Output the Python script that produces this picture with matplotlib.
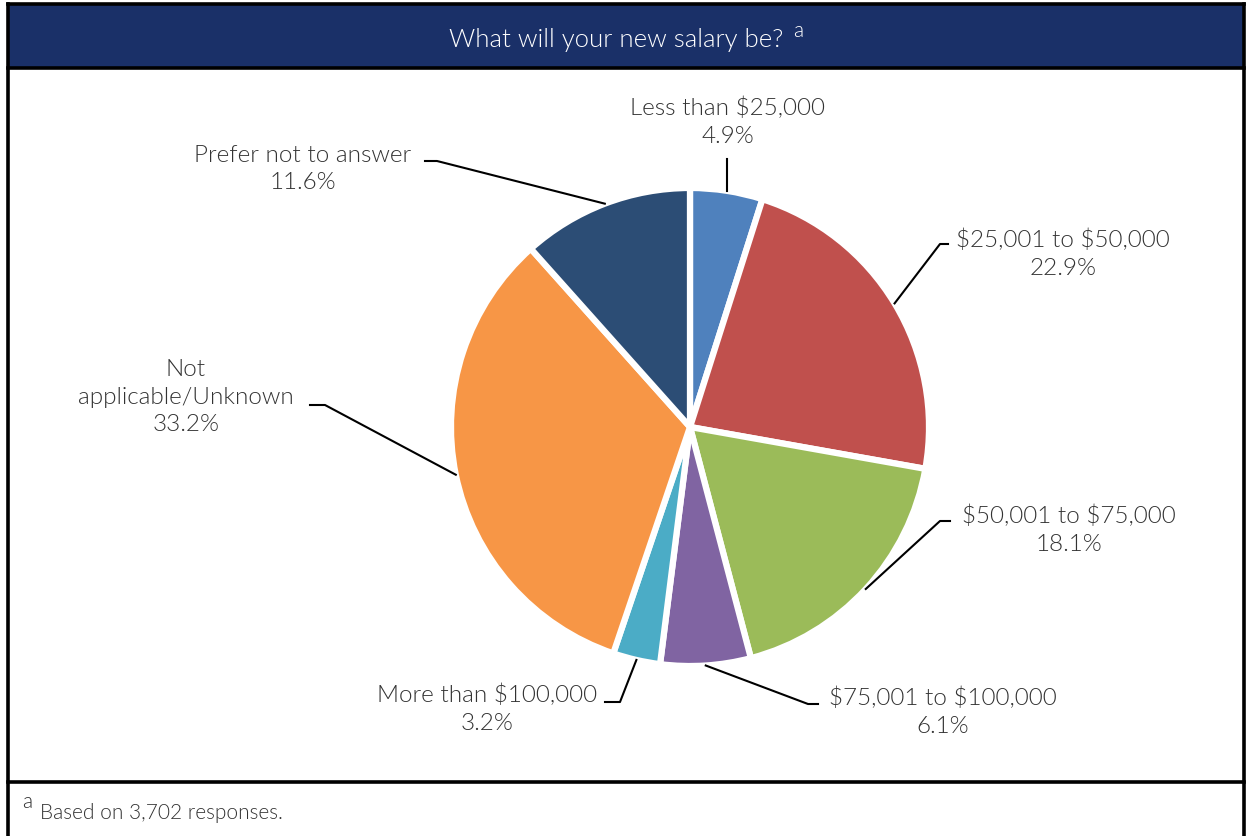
import math
import matplotlib
matplotlib.use("Agg")
import matplotlib.pyplot as plt
from matplotlib.patches import Rectangle
from matplotlib import font_manager

categories = [
    "Less than $25,000",
    "$25,001 to $50,000",
    "$50,001 to $75,000",
    "$75,001 to $100,000",
    "More than $100,000",
    "Not\napplicable/Unknown",
    "Prefer not to answer",
]
shares = [4.9, 22.9, 18.1, 6.1, 3.2, 33.2, 11.6]
colors = ["#4F81BD", "#C0504D", "#9BBB59", "#8064A2", "#4BACC6", "#F79646", "#2C4D75"]

title = "What will your new salary be?"
footnote = "Based on 3,702 responses."

names = {f.name for f in font_manager.fontManager.ttflist}
family = "Lato" if "Lato" in names else "DejaVu Sans"
plt.rcParams["font.family"] = [family, "DejaVu Sans"]
WEIGHT = 300
TEXT = "#333333"

W, H = 1250, 837
fig = plt.figure(figsize=(W / 100, H / 100), dpi=100)

# pie in its own axes, y up, placed in pixel space
cx, cy, R = 690, 428, 239
pax = fig.add_axes([0, 0, 1, 1])
explode = 0.025
wedges, _ = pax.pie(
    shares, colors=colors, startangle=90, counterclock=False,
    center=(cx, H - cy), radius=R, explode=[explode] * len(shares),
    wedgeprops=dict(edgecolor="white", linewidth=4.5),
)
pax.set_xlim(0, W)
pax.set_ylim(0, H)
pax.set_aspect("equal")
pax.axis("off")

# overlay axes in pixel coordinates (y down) for frame, text and leader lines
ax = fig.add_axes([0, 0, 1, 1])
ax.set_xlim(0, W)
ax.set_ylim(H, 0)
ax.axis("off")
ax.patch.set_alpha(0)

ax.add_patch(Rectangle((8, 5), 1236, 64, facecolor="#1A3068", edgecolor="none", zorder=1))
lw = 2.6
ax.plot([8, 8], [H + 5, 5], color="black", lw=lw, solid_capstyle="projecting", zorder=2)
ax.plot([1244, 1244], [H + 5, 5], color="black", lw=lw, solid_capstyle="projecting", zorder=2)
ax.plot([8, 1244], [5, 5], color="black", lw=lw, solid_capstyle="projecting", zorder=2)
ax.plot([8, 1244], [69, 69], color="black", lw=lw, zorder=2)
ax.plot([8, 1244], [783, 783], color="black", lw=lw, zorder=2)

ax.text(616, 40, title, color="white", fontsize=18.5, ha="center", va="center",
        fontweight=WEIGHT, parse_math=False, zorder=3)
ax.text(793, 31, "a", color="white", fontsize=15, ha="left", va="center",
        fontweight=WEIGHT, zorder=3)
ax.text(22, 802, "a", color=TEXT, fontsize=15, ha="left", va="center",
        fontweight=WEIGHT, zorder=3)
ax.text(40, 813, footnote, color=TEXT, fontsize=15, ha="left", va="center",
        fontweight=WEIGHT, parse_math=False, zorder=3)

# label text positions (pixel space) and elbow points of leader lines
label_pos = [(728, 122), (1063, 254), (1069, 530), (943, 712), (487, 709), (186, 397), (303, 169)]
elbows = [None, (940, 245, 948), (940, 522, 950), (808, 705, 818), (620, 703, 605),
          (325, 406, 310), (437, 162, 425)]

for w, cat, val, (tx, ty), el in zip(wedges, categories, shares, label_pos, elbows):
    ang = math.radians((w.theta1 + w.theta2) / 2)
    ox, oy = w.center
    ax_x = ox + w.r * math.cos(ang)
    ax_y = H - (oy + w.r * math.sin(ang))
    if el is None:
        ax.plot([ax_x, ax_x], [ax_y, 160], color="black", lw=1.5, zorder=3)
    else:
        ex, ey, hx = el
        ax.plot([ax_x, ex, hx], [ax_y, ey, ey], color="black", lw=1.5, zorder=3)
    ax.text(tx, ty, f"{cat}\n{val:.1f}%", color=TEXT, fontsize=17.5, ha="center",
            va="center", linespacing=1.4, fontweight=WEIGHT, parse_math=False, zorder=3)

fig.savefig("out.png", dpi=100, facecolor="white")
